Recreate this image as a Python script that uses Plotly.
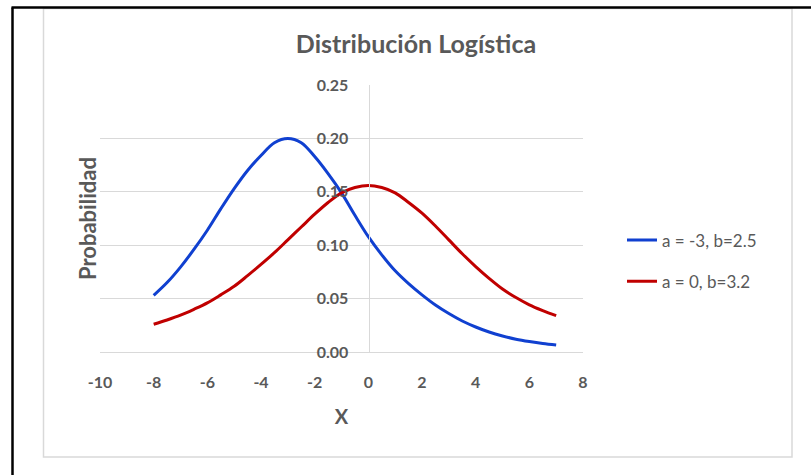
import plotly.graph_objects as go

# Data (every 0.5 on X)
x_vals = [-8, -7.5, -7, -6.5, -6, -5.5, -5, -4.5, -4, -3.5, -3, -2.5, -2, -1.5, -1, -0.5,
          0, 0.5, 1, 1.5, 2, 2.5, 3, 3.5, 4, 4.5, 5, 5.5, 6, 6.5, 7]
blue_vals = [0.053, 0.065, 0.0795, 0.096, 0.114, 0.134, 0.153, 0.170, 0.184, 0.196,
             0.200, 0.196, 0.183, 0.167, 0.149, 0.128,
             0.108, 0.091, 0.076, 0.064, 0.0535, 0.044, 0.036, 0.029, 0.0234, 0.0187,
             0.015, 0.012, 0.0098, 0.008, 0.0066]
red_vals = [0.026, 0.030, 0.0345, 0.040, 0.046, 0.0535, 0.0615, 0.0715, 0.082, 0.093,
            0.105, 0.117, 0.129, 0.140, 0.149, 0.154,
            0.156, 0.154, 0.149, 0.140, 0.130, 0.118, 0.105, 0.092, 0.080, 0.069,
            0.059, 0.051, 0.0442, 0.0388, 0.034]
series_names = ["a = -3, b=2.5", "a = 0, b=3.2"]
x_ticks = [-10, -8, -6, -4, -2, 0, 2, 4, 6, 8]
y_ticks = [0.00, 0.05, 0.10, 0.15, 0.20, 0.25]

TXT = "#595959"
GRID = "#d9d9d9"
FONT = "Lato, 'Open Sans', sans-serif"

W, H = 811, 475
L, R, T, B = 100, 583, 85, 352  # plot area in pixels


def px(xp):
    return (xp - L) / (R - L)


def py(yp):
    return (B - yp) / (B - T)


fig = go.Figure()
fig.add_trace(go.Scatter(x=x_vals, y=blue_vals, mode="lines", name=series_names[0],
                         line=dict(color="#1040d0", width=3, shape="spline", smoothing=1.0),
                         legendgroup="a"))
fig.add_trace(go.Scatter(x=x_vals, y=red_vals, mode="lines", name=series_names[1],
                         line=dict(color="#c00000", width=3, shape="spline", smoothing=1.0),
                         legendgroup="b"))

fig.update_layout(
    width=W, height=H,
    margin=dict(l=L, r=W - R, t=T, b=H - B, pad=0),
    paper_bgcolor="white", plot_bgcolor="white",
    font=dict(family=FONT, color=TXT),
    title=dict(text="<b>Distribución Logística</b>", x=416 / W, y=1 - 44 / H,
               xanchor="center", yanchor="middle", xref="container", yref="container",
               font=dict(size=25, color=TXT, family=FONT)),
    xaxis=dict(range=[-10, 8], tickvals=x_ticks, ticktext=[f"<b>{v}</b>" for v in x_ticks],
               showgrid=False, zeroline=False, showline=True, linecolor=GRID, linewidth=1,
               ticks="", ticklabelstandoff=16,
               tickfont=dict(size=16, color=TXT, family=FONT),
               title=dict(text="<b>X</b>", font=dict(size=20, color=TXT, family=FONT), standoff=19)),
    yaxis=dict(range=[0, 0.25], tickvals=y_ticks,
               ticktext=[f"<b>{v:.2f}</b>" for v in y_ticks],
               showgrid=True, gridcolor=GRID, gridwidth=1, zeroline=False,
               showline=True, linecolor=GRID, linewidth=1,
               anchor="free", position=px(368.5),
               ticks="", ticklabelstandoff=17,
               tickfont=dict(size=16, color=TXT, family=FONT)),
    legend=dict(x=px(622), y=py(261), xanchor="left", yanchor="middle",
                traceorder="grouped", tracegroupgap=16,
                font=dict(size=17, color=TXT, family=FONT),
                bgcolor="rgba(0,0,0,0)"),
    showlegend=True,
)

fig.add_annotation(text="<b>Probabilidad</b>", textangle=-90, xref="paper", yref="paper",
                   x=px(87), y=py(219), xanchor="center", yanchor="middle", showarrow=False,
                   font=dict(size=22, color=TXT, family=FONT))

# chart border (light gray) and outer black frame lines
fig.add_shape(type="rect", xref="paper", yref="paper",
              x0=px(43.5), x1=px(792), y0=py(457), y1=py(8.5),
              line=dict(color=GRID, width=1.5), layer="below")
fig.add_shape(type="line", xref="paper", yref="paper",
              x0=px(12.5), x1=px(12.5), y0=py(476), y1=py(7.5),
              line=dict(color="black", width=2.5))
fig.add_shape(type="line", xref="paper", yref="paper",
              x0=px(11.5), x1=px(812), y0=py(7.5), y1=py(7.5),
              line=dict(color="black", width=2.5))

fig.write_html("out.html", config={"displayModeBar": False},
               post_script="document.body.style.margin='0';document.body.style.overflow='hidden';")
